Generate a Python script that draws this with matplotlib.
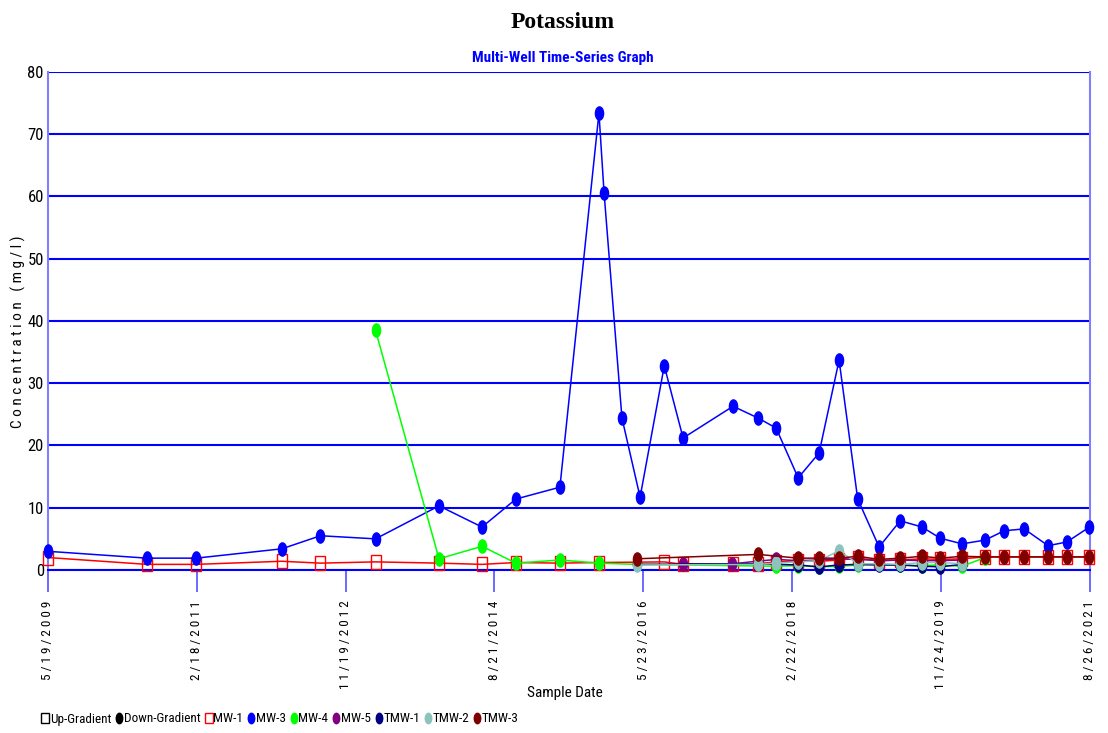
import matplotlib
matplotlib.use("Agg")
import matplotlib.pyplot as plt
from matplotlib.markers import MarkerStyle
from matplotlib.transforms import Affine2D
from matplotlib.lines import Line2D
import pandas as pd

# Narrow sans for axis text (the reference uses an Arial Narrow look), serif for the title
plt.rcParams['font.family'] = ['Roboto Condensed', 'Liberation Sans', 'DejaVu Sans']

# ---- data (K, mg/l) ----
mw1_dates = ['2009-05-19', '2010-07-19', '2011-02-15', '2012-02-19', '2012-08-03', '2013-03-28',
             '2013-12-26', '2014-06-29', '2014-11-22', '2015-05-30', '2015-11-14', '2016-08-21',
             '2016-11-10', '2017-06-13', '2017-09-29', '2017-12-15', '2018-03-20', '2018-06-18',
             '2018-09-12', '2018-12-01', '2019-03-03', '2019-06-02', '2019-09-04', '2019-11-21',
             '2020-02-23', '2020-06-01', '2020-08-22', '2020-11-16', '2021-02-27', '2021-05-19',
             '2021-08-24']
mw1_vals = [2.0, 0.9, 0.9, 1.4, 1.1, 1.3, 1.1, 0.9, 1.2, 1.1, 1.2, 1.3, 0.9, 0.9, 1.0, 1.3,
            1.5, 1.4, 1.6, 1.9, 1.5, 1.6, 1.8, 1.7, 1.8, 2.1, 2.1, 2.1, 2.1, 2.1, 2.1]

mw3_dates = ['2009-05-19', '2010-07-19', '2011-02-15', '2012-02-19', '2012-08-03', '2013-03-28',
             '2013-12-26', '2014-06-29', '2014-11-22', '2015-05-30', '2015-11-14', '2015-12-06',
             '2016-02-21', '2016-05-09', '2016-08-21', '2016-11-10', '2017-06-13', '2017-09-29',
             '2017-12-15', '2018-03-20', '2018-06-18', '2018-09-12', '2018-12-01', '2019-03-03',
             '2019-06-02', '2019-09-04', '2019-11-21', '2020-02-23', '2020-06-01', '2020-08-22',
             '2020-11-16', '2021-02-27', '2021-05-19', '2021-08-24']
mw3_vals = [3.0, 1.9, 1.9, 3.4, 5.5, 5.0, 10.3, 6.9, 11.4, 13.3, 73.4, 60.6, 24.4, 11.7, 32.8,
            21.2, 26.3, 24.4, 22.8, 14.8, 18.8, 33.7, 11.4, 3.7, 7.9, 6.9, 5.1, 4.2, 4.8, 6.3,
            6.6, 3.9, 4.5, 6.9]

mw4_dates = ['2013-03-28', '2013-12-26', '2014-06-29', '2014-11-22', '2015-05-30', '2015-11-14',
             '2016-04-26', '2017-12-15', '2018-03-20', '2018-06-18', '2018-09-12', '2018-12-01',
             '2019-03-03', '2019-06-02', '2019-09-04', '2019-11-21', '2020-02-23', '2020-06-01']
mw4_vals = [38.5, 1.8, 3.8, 1.1, 1.6, 1.1, 0.9, 0.6, 0.7, 0.5, 0.6, 0.8, 0.9, 0.8, 0.7, 0.8,
            0.6, 2.0]

mw5_dates = ['2016-11-10', '2017-06-09', '2017-12-15', '2018-03-20', '2018-06-18', '2018-09-12',
             '2018-12-01', '2019-03-03', '2019-06-02', '2019-09-04', '2019-11-21', '2020-02-23']
mw5_vals = [1.0, 1.0, 1.7, 1.5, 1.6, 1.8, 1.7, 1.5, 1.6, 1.5, 1.5, 1.6]

tmw1_dates = ['2016-04-26', '2017-09-29', '2018-03-20', '2018-06-18', '2018-09-12', '2018-12-01',
              '2019-03-03', '2019-06-02', '2019-09-04', '2019-11-21', '2020-02-23']
tmw1_vals = [0.9, 1.0, 0.8, 0.5, 0.8, 0.9, 0.8, 0.8, 0.6, 0.5, 0.9]

tmw2_dates = ['2016-04-26', '2017-09-29', '2017-12-15', '2018-03-20', '2018-06-18', '2018-09-12',
              '2018-12-01', '2019-03-03', '2019-06-02', '2019-09-04', '2019-11-21', '2020-02-23']
tmw2_vals = [0.8, 0.9, 1.1, 1.3, 1.5, 3.1, 1.0, 1.0, 0.9, 1.2, 1.2, 1.0]

tmw3_dates = ['2016-04-26', '2017-09-29', '2018-03-20', '2018-06-18', '2018-09-12', '2018-12-01',
              '2019-03-03', '2019-06-02', '2019-09-04', '2019-11-21', '2020-02-23', '2020-06-01',
              '2020-08-22', '2020-11-16', '2021-02-27', '2021-05-19', '2021-08-24']
tmw3_vals = [1.8, 2.5, 1.9, 1.9, 1.9, 2.2, 1.7, 1.9, 2.2, 1.9, 2.2, 2.1, 2.1, 2.1, 2.1, 2.1, 2.1]

tick_dates = ['2009-05-19', '2011-02-18', '2012-11-19', '2014-08-21', '2016-05-23',
              '2018-02-22', '2019-11-24', '2021-08-26']
y_ticks = [0, 10, 20, 30, 40, 50, 60, 70, 80]

# (label, dates, values, colour, marker kind)
series = [
    ('MW-1', mw1_dates, mw1_vals, '#FF0000', 'square'),
    ('MW-3', mw3_dates, mw3_vals, '#0000FF', 'dot'),
    ('MW-4', mw4_dates, mw4_vals, '#00FF00', 'dot'),
    ('MW-5', mw5_dates, mw5_vals, '#800080', 'dot'),
    ('TMW-1', tmw1_dates, tmw1_vals, '#000080', 'dot'),
    ('TMW-2', tmw2_dates, tmw2_vals, '#8CC4BD', 'dot'),
    ('TMW-3', tmw3_dates, tmw3_vals, '#800000', 'dot'),
]


def tall_marker(kind):
    '''Markers in the reference are stretched vertically.'''
    if kind == 'square':
        return MarkerStyle('s', transform=Affine2D().scale(0.75, 1.0))
    return MarkerStyle('o', transform=Affine2D().scale(0.62, 1.0))


fig = plt.figure(figsize=(11.08, 7.33), dpi=100)
ax = fig.add_axes([0.0433, 0.2224, 0.9404, 0.6794])

for label, dates, vals, col, kind in series:
    face = 'none' if kind == 'square' else col
    ax.plot(pd.to_datetime(dates), vals, color=col, lw=1.1,
            marker=tall_marker(kind), markersize=9.5, markerfacecolor=face,
            markeredgecolor=col, markeredgewidth=1.0, clip_on=False, zorder=3)

# Axes range and grid
ax.set_xlim(pd.Timestamp(tick_dates[0]), pd.Timestamp(tick_dates[-1]))
ax.set_ylim(0, 80)
ax.set_yticks(y_ticks)
ax.yaxis.grid(True, color='#0000FF', lw=1.5)
ax.set_axisbelow(True)

ax.spines['top'].set_visible(False)
ax.spines['bottom'].set_color('#0000FF')
ax.spines['bottom'].set_linewidth(1.5)
for side in ['left', 'right']:
    ax.spines[side].set_color('#8080FF')
    ax.spines[side].set_linewidth(1.5)

tick_pos = pd.to_datetime(tick_dates)
ax.set_xticks(tick_pos)
ax.set_xticklabels([' '.join(f'{d.month}/{d.day}/{d.year}') for d in tick_pos],
                   rotation=90, fontsize=9.5)
ax.tick_params(axis='x', direction='out', length=16, width=1.2, color='#5050FF', pad=6)
ax.tick_params(axis='y', length=0, pad=3, labelsize=12)

# Titles and axis labels
fig.text(563 / 1108, 1 - 23 / 733, 'Potassium', family='Liberation Serif',
         weight='bold', size=17, ha='center', va='center')
fig.text(563 / 1108, 1 - 58 / 733, 'Multi-Well Time-Series Graph', color='#0000FF',
         weight='bold', size=11, ha='center', va='center')
fig.text(18 / 1108, 1 - 332 / 733, 'C o n c e n t r a t i o n   ( m g / l )',
         rotation=90, size=11, ha='center', va='center')
fig.text(565 / 1108, 1 - 693 / 733, 'Sample Date', size=11, ha='center', va='center')

# Legend along the bottom
handles = [
    Line2D([], [], ls='none', marker=tall_marker('square'), markersize=7.5,
           markerfacecolor='none', markeredgecolor='black'),
    Line2D([], [], ls='none', marker=tall_marker('dot'), markersize=7.5,
           color='black'),
]
labels = ['Up-Gradient', 'Down-Gradient']
for label, dates, vals, col, kind in series:
    face = 'none' if kind == 'square' else col
    handles.append(Line2D([], [], ls='none', marker=tall_marker(kind), markersize=7.5,
                          markerfacecolor=face, markeredgecolor=col))
    labels.append(label)

fig.legend(handles, labels, loc='center left', bbox_to_anchor=(42 / 1108, 1 - 719 / 733),
           ncol=9, frameon=False, fontsize=9.5, handlelength=0.5, handletextpad=0.1,
           columnspacing=0.35, borderaxespad=0, borderpad=0)

fig.savefig('out.png', dpi=100)
